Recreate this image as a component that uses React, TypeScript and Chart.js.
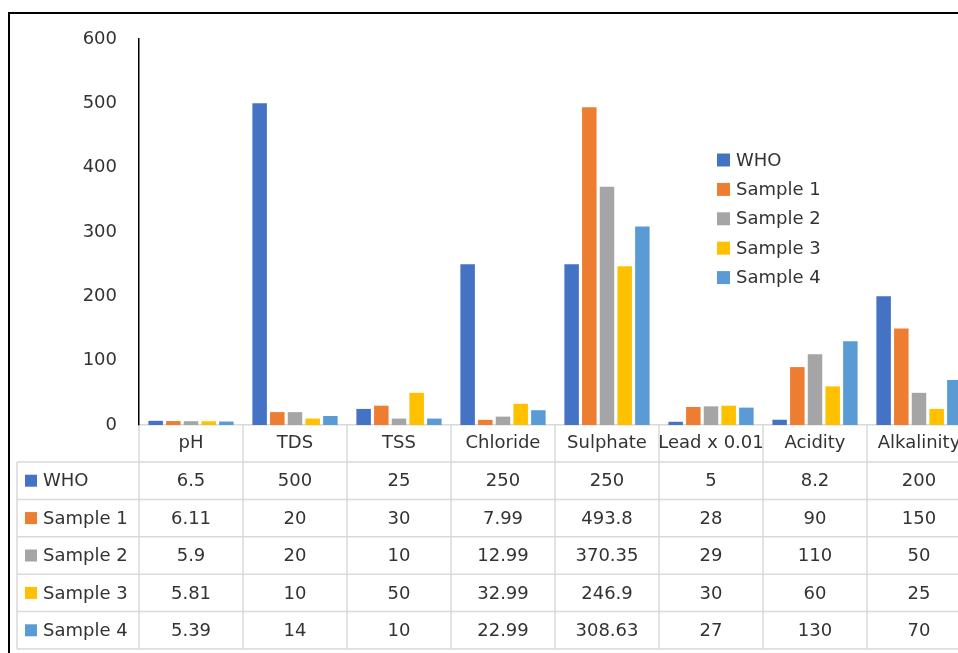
import React, { useEffect, useRef } from 'react';
import { Chart, registerables } from 'chart.js';

Chart.register(...registerables);

const categories = ['pH', 'TDS', 'TSS', 'Chloride', 'Sulphate', 'Lead x 0.01', 'Acidity', 'Alkalinity'];
const seriesNames = ['WHO', 'Sample 1', 'Sample 2', 'Sample 3', 'Sample 4'];
const whoValues = [6.5, 500, 25, 250, 250, 5, 8.2, 200];
const sample1Values = [6.11, 20, 30, 7.99, 493.8, 28, 90, 150];
const sample2Values = [5.9, 20, 10, 12.99, 370.35, 29, 110, 50];
const sample3Values = [5.81, 10, 50, 32.99, 246.9, 30, 60, 25];
const sample4Values = [5.39, 14, 10, 22.99, 308.63, 27, 130, 70];
const seriesColors = ['#4472C4', '#ED7D31', '#A5A5A5', '#FFC000', '#5B9BD5'];
const yMin = 0;
const yMax = 600;
const yStep = 100;

const FONT_FAMILY = '"DejaVu Sans", sans-serif';
const FONT_SIZE = 18;
const TEXT = '#333333';
const LINE = '#d9d9d9';

const tablePlugin = {
  id: 'dataTable',
  afterDraw(chart: any) {
    const { ctx, chartArea, scales } = chart;
    const x = scales.x;
    const n = chart.data.labels.length;
    const colW = x.width / n;
    const top = chartArea.bottom;
    const headerH = 37;
    const rowH = 37.4;
    const ds = chart.data.datasets;
    const tableLeft = 17;
    const bottom = top + headerH + rowH * ds.length;
    ctx.save();
    ctx.strokeStyle = LINE;
    ctx.lineWidth = 1.5;
    ctx.beginPath();
    for (let i = 0; i <= n; i++) {
      const xx = x.left + i * colW;
      ctx.moveTo(xx, top);
      ctx.lineTo(xx, bottom);
    }
    ctx.moveTo(tableLeft, top + headerH);
    ctx.lineTo(tableLeft, bottom);
    for (let r = 0; r <= ds.length; r++) {
      const y = top + headerH + r * rowH;
      ctx.moveTo(tableLeft, y);
      ctx.lineTo(x.right, y);
    }
    ctx.stroke();

    ctx.font = `${FONT_SIZE}px ${FONT_FAMILY}`;
    ctx.textBaseline = 'middle';
    ds.forEach((d: any, r: number) => {
      const cy = top + headerH + (r + 0.5) * rowH;
      ctx.fillStyle = d.backgroundColor;
      ctx.fillRect(25, cy - 6, 12, 12);
      ctx.fillStyle = TEXT;
      ctx.textAlign = 'left';
      ctx.fillText(d.label, 43, cy + 1);
      ctx.textAlign = 'center';
      d.data.forEach((v: number, i: number) => {
        ctx.fillText(String(v), x.getPixelForValue(i), cy + 1);
      });
    });

    // floating legend
    const lgX = 717;
    const lgY = 160;
    const lgStep = 29.4;
    ds.forEach((d: any, r: number) => {
      const cy = lgY + r * lgStep;
      ctx.fillStyle = d.backgroundColor;
      ctx.fillRect(lgX, cy - 6.5, 13, 13);
      ctx.fillStyle = TEXT;
      ctx.textAlign = 'left';
      ctx.fillText(d.label, lgX + 19, cy + 1);
    });
    ctx.restore();
  },
};

export default function App() {
  const ref = useRef<HTMLCanvasElement>(null);
  useEffect(() => {
    const seriesValues = [whoValues, sample1Values, sample2Values, sample3Values, sample4Values];
    const chart = new Chart(ref.current as HTMLCanvasElement, {
      type: 'bar',
      data: {
        labels: categories,
        datasets: seriesNames.map((name, i) => ({
          label: name,
          data: seriesValues[i],
          backgroundColor: seriesColors[i],
          borderWidth: 0,
          categoryPercentage: 0.85,
          barPercentage: 0.82,
        })),
      },
      options: {
        responsive: false,
        animation: false,
        devicePixelRatio: 1,
        layout: { padding: { left: 0, top: 39, right: 29, bottom: 191 } },
        plugins: {
          legend: { display: false },
          tooltip: { enabled: false },
        },
        scales: {
          x: {
            offset: true,
            grid: { display: false, drawTicks: false },
            border: { display: true, color: LINE, width: 1.5 },
            ticks: {
              color: TEXT,
              font: { family: FONT_FAMILY, size: FONT_SIZE },
              padding: 8,
              maxRotation: 0,
              autoSkip: false,
            },
            afterFit: (scale: any) => {
              scale.height = 37;
            },
          },
          y: {
            min: yMin,
            max: yMax,
            grid: { display: false, drawTicks: false },
            border: { display: true, color: '#000', width: 1.5 },
            ticks: {
              stepSize: yStep,
              color: TEXT,
              font: { family: FONT_FAMILY, size: FONT_SIZE },
              padding: 22,
            },
            afterFit: (scale: any) => {
              scale.width = 139;
            },
          },
        },
      },
      plugins: [tablePlugin],
    });
    return () => chart.destroy();
  }, []);

  return (
    <div
      style={{
        position: 'fixed',
        left: 0,
        top: 0,
        width: 958,
        height: 653,
        overflow: 'hidden',
        background: '#fff',
      }}
    >
      <canvas
        ref={ref}
        width={1000}
        height={653}
        style={{ position: 'absolute', left: 0, top: 0, width: 1000, height: 653 }}
      />
      <div
        style={{
          position: 'absolute',
          left: 8,
          top: 12,
          width: 1200,
          height: 800,
          borderLeft: '2px solid #000',
          borderTop: '2px solid #000',
          pointerEvents: 'none',
        }}
      />
    </div>
  );
}
